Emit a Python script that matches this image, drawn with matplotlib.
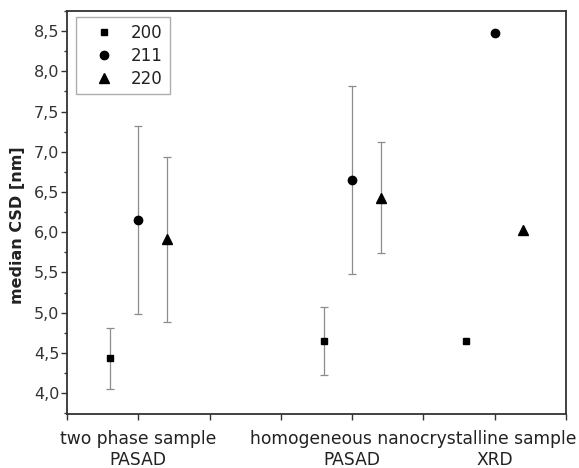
'''
    median CSD per sample and reflection
'''

import numpy as np
import matplotlib
matplotlib.use("Agg")
import matplotlib.pyplot as plt
from matplotlib.ticker import MultipleLocator, FuncFormatter
from matplotlib.transforms import blended_transform_factory

# group centres on the x axis and the offset of each reflection
group_x = [1, 4, 6]
offsets = {"200": -0.4, "211": 0.0, "220": 0.4}

# median CSD [nm] and error (nan = no error bar)
vals_200 = [4.43, 4.65, 4.65]
err_200 = [0.38, 0.42, np.nan]
vals_211 = [6.15, 6.65, 8.48]
err_211 = [1.17, 1.165, np.nan]
vals_220 = [5.91, 6.43, 6.03]
err_220 = [1.03, 0.69, np.nan]

# second line of the x labels sits under the ticks, the first line is free text
method_labels = ["PASAD", "PASAD", "XRD"]
sample_labels = ["two phase sample", "homogeneous nanocrystalline sample"]
sample_label_x = [1, 4.85]

series = [
    ("200", vals_200, err_200, "s", 5),
    ("211", vals_211, err_211, "o", 6),
    ("220", vals_220, err_220, "^", 6.5),
]

fig = plt.figure(figsize=(5.79, 4.68), dpi=100)
ax = fig.add_axes([0.1157, 0.1154, 0.8618, 0.8611])

for name, vals, errs, marker, ms in series:
    x = np.array(group_x) + offsets[name]
    vals = np.array(vals)
    errs = np.array(errs)
    has_err = ~np.isnan(errs)
    ax.errorbar(x[has_err], vals[has_err], yerr=errs[has_err], fmt="none",
                ecolor="#8c8c8c", elinewidth=0.9, capsize=3, capthick=0.9, zorder=2)
    ax.plot(x, vals, ls="none", marker=marker, ms=ms, color="black",
            label=name, zorder=3)

ax.set_xlim(0, 7)
ax.set_ylim(3.74, 8.75)

ax.set_xticks(range(0, 8))
labels = [""] * 8
for pos, lab in zip(group_x, method_labels):
    labels[pos] = lab
ax.set_xticklabels(labels, fontsize=12.3, color="#222222")

ax.yaxis.set_major_locator(MultipleLocator(0.5))
ax.yaxis.set_minor_locator(MultipleLocator(0.25))
ax.yaxis.set_major_formatter(FuncFormatter(lambda v, p: f"{v:.1f}".replace(".", ",")))
ax.tick_params(axis="y", which="major", length=4, width=1, pad=1.5,
               labelsize=11.5, labelcolor="#333333", color="#333333")
ax.tick_params(axis="y", which="minor", length=2.5, width=1, color="#333333")
ax.tick_params(axis="x", which="major", length=4, width=1, pad=22.3,
               color="#333333")
ax.tick_params(top=False, right=False)

for side in ["left", "bottom", "top", "right"]:
    ax.spines[side].set_linewidth(1.3)
    ax.spines[side].set_color("#333333")

trans = blended_transform_factory(ax.transData, ax.transAxes)
for lab, xpos in zip(sample_labels, sample_label_x):
    ax.annotate(lab, xy=(xpos, 0), xycoords=trans,
                xytext=(0, -11.3), textcoords="offset points",
                ha="center", va="top", fontsize=12.3, color="#222222")

ax.set_ylabel("median CSD [nm]", fontsize=11.5, fontweight="bold", color="#222222")
ax.yaxis.set_label_coords(-0.084, 0.468)

leg = ax.legend(loc="upper left", bbox_to_anchor=(0.018, 0.985), borderaxespad=0,
                fontsize=12, frameon=True, fancybox=False, handlelength=2.6,
                handletextpad=0.3, borderpad=0.4, labelspacing=0.3, numpoints=1)
leg.get_frame().set_edgecolor("#999999")
leg.get_frame().set_linewidth(1.0)
for t in leg.get_texts():
    t.set_color("#222222")

fig.savefig("out.png", dpi=100)
